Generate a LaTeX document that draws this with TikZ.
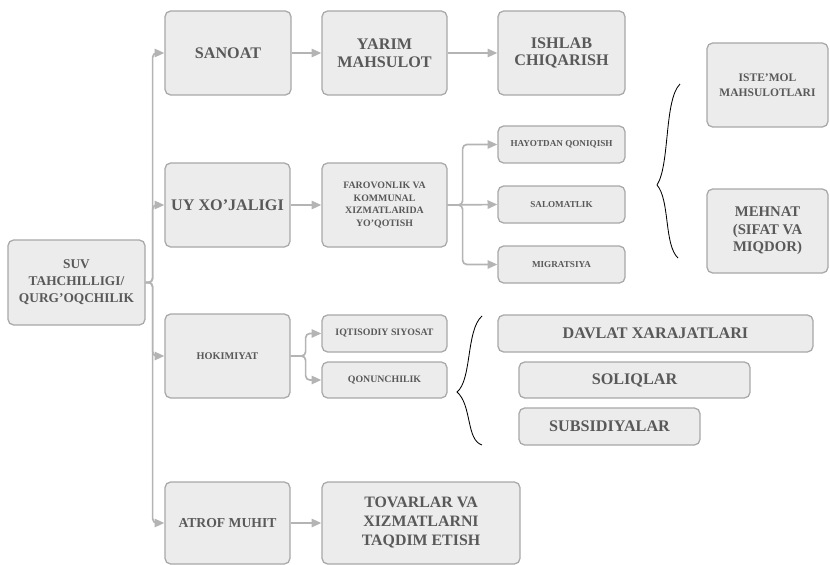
\documentclass[tikz,border=0pt]{standalone}
\usepackage{fontspec}
\setmainfont{Liberation Serif}
\usepackage{tikz}
\usetikzlibrary{calc}
\usetikzlibrary{shapes,arrows.meta}

\definecolor{boxfill}{HTML}{ECECEC}
\definecolor{boxline}{HTML}{A8A8A8}
\definecolor{boxtext}{HTML}{595959}
\definecolor{linkgray}{HTML}{B4B4B4}

\tikzset{
  box/.style={draw=boxline,fill=boxfill,rounded corners=4pt,line width=0.9pt,
    text=boxtext,align=center,inner sep=1pt},
  wh/.style 2 args={minimum width=#1*0.025cm,minimum height=#2*0.025cm},
  txtbig/.style={font=\fontsize{11.5}{12.5}\selectfont\bfseries},
  txtmid/.style={font=\fontsize{9.5}{12}\selectfont\bfseries},
  txtsmall/.style={font=\fontsize{7}{9}\selectfont\bfseries},
  txttiny/.style={font=\fontsize{6.5}{8}\selectfont\bfseries},
  link/.style={draw=linkgray,line width=1.2pt,rounded corners=3pt,
    -{Triangle[length=7pt,width=6pt]}},
  curly/.style={draw=black,line width=0.6pt}
}

\begin{document}
\begin{tikzpicture}[x=0.025cm,y=-0.025cm]
    \useasboundingbox (0,0) rectangle (830,565);
    % first column
    \node[box,wh={137}{85},txtmid] (suv) at (76.5,282.5) {SUV\\TAHCHILLIGI/\\QURG’OQCHILIK};
    % second column
    \node[box,wh={126}{84},txtbig] (sanoat) at (228,53) {SANOAT};
    \node[box,wh={125}{84},txtbig] (uy) at (227.5,205) {UY XO’JALIGI};
    \node[box,wh={125}{84},font=\fontsize{7.3}{9}\selectfont\bfseries] (hokim) at (227.5,356) {HOKIMIYAT};
    \node[box,wh={125}{82},font=\fontsize{9.7}{12}\selectfont\bfseries] (atrof) at (227.5,523) {ATROF MUHIT};
    % third column
    \node[box,wh={125}{84},txtbig] (yarim) at (384.5,53) {YARIM\\MAHSULOT};
    \node[box,wh={125}{84},txtsmall] (farov) at (384.5,205) {FAROVONLIK VA\\KOMMUNAL\\XIZMATLARIDA\\YO’QOTISH};
    \node[box,wh={125}{37},txtsmall] (iqtis) at (384.5,333.5) {IQTISODIY SIYOSAT};
    \node[box,wh={125}{36},txtsmall] (qonun) at (384.5,380) {QONUNCHILIK};
    \node[box,wh={198}{82},font=\fontsize{11.3}{13.5}\selectfont\bfseries] (tovar) at (421,523) {TOVARLAR VA\\XIZMATLARNI\\TAQDIM ETISH};
    % fourth column
    \node[box,wh={127}{84},txtbig] (ishlab) at (561.5,53) {ISHLAB\\CHIQARISH};
    \node[box,wh={127}{37},txttiny] (hayot) at (561.5,144.5) {HAYOTDAN QONIQISH};
    \node[box,wh={127}{37},txttiny] (salom) at (561.5,204.5) {SALOMATLIK};
    \node[box,wh={127}{37},txttiny] (migr) at (561.5,264.5) {MIGRATSIYA};
    \node[box,wh={315}{37},txtbig] (davlat) at (655.5,333.5) {DAVLAT XARAJATLARI};
    \node[box,wh={231}{36},txtbig] (soliq) at (634.5,380) {SOLIQLAR};
    \node[box,wh={181}{37},txtbig] (subs) at (609.5,426.5) {SUBSIDIYALAR};
    % right column
    \node[box,wh={121}{84},font=\fontsize{8.2}{10.7}\selectfont\bfseries] (istemol) at (767.5,85) {ISTE'MOL\\MAHSULOTLARI};
    \node[box,wh={121}{84},font=\fontsize{10.5}{12.4}\selectfont\bfseries] (mehnat) at (767.5,231) {MEHNAT\\(SIFAT VA\\MIQDOR)};
    % connectors
    \draw[link] (suv.east)--++(7,0) |- (sanoat.west);
    \draw[link] (suv.east)--++(7,0) |- (uy.west);
    \draw[link] (suv.east)--++(7,0) |- (hokim.west);
    \draw[link] (suv.east)--++(7,0) |- (atrof.west);
    \draw[link] (sanoat)--(yarim);
    \draw[link] (yarim)--(ishlab);
    \draw[link] (uy)--(farov);
    \draw[link] (farov.east)--++(15,0) |- (hayot.west);
    \draw[link] (farov.east)--(salom.west);
    \draw[link] (farov.east)--++(15,0) |- (migr.west);
    \draw[link] (hokim.east)--++(15,0) |- (iqtis.west);
    \draw[link] (hokim.east)--++(15,0) |- (qonun.west);
    \draw[link] (atrof)--(tovar);
    % braces
    \draw[curly] (680,84) .. controls (664,100) and (670,165) .. (657,185)
      .. controls (670,200) and (664,245) .. (678,258);
    \draw[curly] (482,316) .. controls (466,330) and (472,380) .. (457,392)
      .. controls (472,405) and (466,440) .. (482,445);
\end{tikzpicture}
\end{document}
